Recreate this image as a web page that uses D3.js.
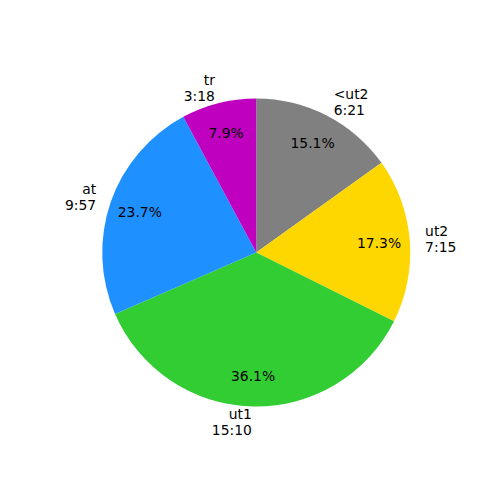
<!DOCTYPE html>
<html>
<head>
  <meta charset="utf-8">
  <title>Pie</title>
  <style>
  body { margin: 0; background: #fff; }
  text { font-family: "DejaVu Sans", sans-serif; font-size: 13.9px; fill: #000; }
  </style>
</head>
<body>
<script src="https://cdnjs.cloudflare.com/ajax/libs/d3/7.8.5/d3.min.js"></script>
<script>
// slices, clockwise from 12 o'clock
var labels = ["<ut2", "ut2", "ut1", "at", "tr"];
var times = ["6:21", "7:15", "15:10", "9:57", "3:18"];
var colors = ["#808080", "#FFD700", "#32CD32", "#1E90FF", "#BF00BF"];

var width = 500, height = 500,
    cx = 256.25, cy = 252.5, r = 154;

// time string -> seconds
function secs(t) {
  var p = t.split(":");
  return +p[0] * 60 + +p[1];
}

var data = labels.map(function(l, i) {
  return {label: l, time: times[i], value: secs(times[i]), color: colors[i]};
});
var total = d3.sum(data, function(d) { return d.value; });

var svg = d3.select("body").append("svg")
    .attr("width", width)
    .attr("height", height);

var g = svg.append("g")
    .attr("transform", "translate(" + cx + "," + cy + ")");

var pie = d3.pie()
    .sort(null)
    .value(function(d) { return d.value; });

var arc = d3.arc().innerRadius(0).outerRadius(r);

var arcs = pie(data);

g.selectAll("path")
    .data(arcs)
  .enter().append("path")
    .attr("d", arc)
    .attr("fill", function(d) { return d.data.color; });

function mid(d) { return (d.startAngle + d.endAngle) / 2; }

// percentages at 0.8 r
g.selectAll(".pct")
    .data(arcs)
  .enter().append("text")
    .attr("class", "pct")
    .attr("x", function(d) { return 0.8 * r * Math.sin(mid(d)); })
    .attr("y", function(d) { return -0.8 * r * Math.cos(mid(d)); })
    .attr("dy", "0.36em")
    .attr("text-anchor", "middle")
    .text(function(d) { return (100 * d.data.value / total).toFixed(1) + "%"; });

// two-line labels at 1.1 r
var lab = g.selectAll(".lab")
    .data(arcs)
  .enter().append("text")
    .attr("class", "lab")
    .attr("text-anchor", function(d) { return Math.sin(mid(d)) > 0 ? "start" : "end"; });

lab.each(function(d) {
  var x = 1.1 * r * Math.sin(mid(d)),
      y = -1.1 * r * Math.cos(mid(d));
  var t = d3.select(this);
  t.append("tspan").attr("x", x).attr("y", y - 8).attr("dy", "0.36em").text(d.data.label);
  t.append("tspan").attr("x", x).attr("y", y + 8).attr("dy", "0.36em").text(d.data.time);
});
</script>
</body>
</html>
